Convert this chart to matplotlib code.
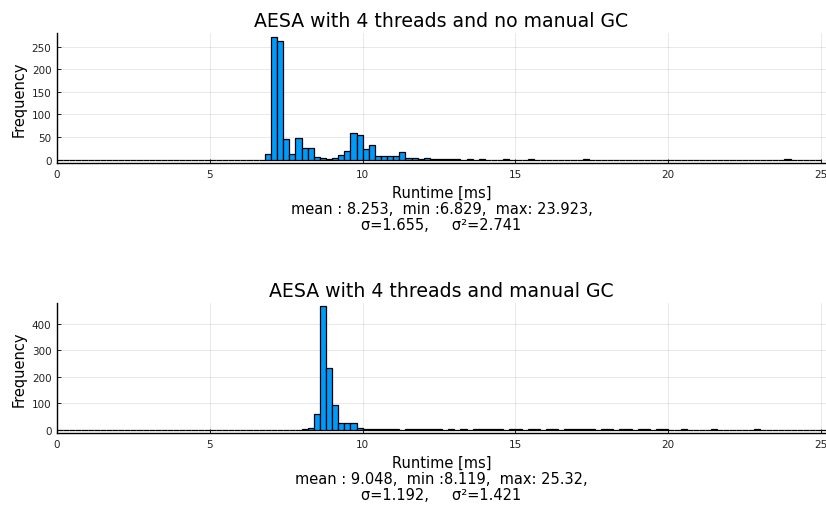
import matplotlib
matplotlib.use('Agg')
import matplotlib.pyplot as plt
import numpy as np

# bin width of the histograms (ms)
bin_width = 0.2

# top panel: no manual GC  (left edge of bin -> count)
top_left = [6.8, 7.0, 7.2, 7.4, 7.6, 7.8, 8.0, 8.2, 8.4, 8.6, 8.8, 9.0, 9.2, 9.4,
            9.6, 9.8, 10.0, 10.2, 10.4, 10.6, 10.8, 11.0, 11.2, 11.4, 11.6, 11.8,
            12.0, 12.2, 12.4, 12.6, 12.8, 13.0, 13.4, 13.8, 14.6, 15.4, 17.2, 23.8]
top_counts = [12, 272, 263, 46, 12, 48, 25, 25, 6, 3, 1, 4, 10, 20,
              58, 55, 23, 32, 8, 8, 8, 8, 18, 4, 4, 2,
              4, 1, 1, 2, 1, 1, 1, 2, 1, 1, 1, 1]
top_range = (0.0, 25.0)

# bottom panel: manual GC
bottom_left = [8.0, 8.2, 8.4, 8.6, 8.8, 9.0, 9.2, 9.4, 9.6, 9.8, 10.0,
               10.2, 10.4, 10.6, 10.8, 11.0, 11.4, 11.6, 11.8, 12.0, 12.2, 12.4,
               12.8, 13.2, 13.6, 13.8, 14.0, 14.2, 14.4, 14.8, 15.0, 15.4, 15.6,
               16.0, 16.2, 16.6, 16.8, 17.0, 17.2, 17.4, 17.8, 18.0, 18.4, 18.6,
               19.0, 19.2, 19.6, 19.8, 20.4, 21.4, 22.8, 25.2]
bottom_counts = [2, 8, 60, 467, 234, 94, 24, 24, 24, 6, 3,
                 1, 1, 1, 1, 1, 1, 1, 1, 1, 1, 1,
                 3, 1, 1, 1, 2, 1, 1, 1, 1, 3, 1,
                 1, 3, 1, 1, 1, 3, 1, 3, 1, 3, 1,
                 1, 1, 3, 1, 3, 1, 1, 1]
bottom_range = (0.0, 25.4)

titles = ['AESA with 4 threads and no manual GC', 'AESA with 4 threads and manual GC']
xlabels = ['Runtime [ms]\nmean : 8.253,  min :6.829,  max: 23.923,\nσ=1.655,     σ²=2.741',
           'Runtime [ms]\nmean : 9.048,  min :8.119,  max: 25.32,\nσ=1.192,     σ²=1.421']
xticks = [0, 5, 10, 15, 20, 25]
yticks_top = [0, 50, 100, 150, 200, 250]
yticks_bottom = [0, 100, 200, 300, 400]


def full_counts(lefts, counts, rng):
    # every bin in the range, empty ones get 0 so the baseline is drawn
    n = int(round((rng[1] - rng[0]) / bin_width))
    edges = rng[0] + bin_width * np.arange(n)
    c = np.zeros(n)
    for l, v in zip(lefts, counts):
        c[int(round((l - rng[0]) / bin_width))] = v
    return edges, c


fig = plt.figure(figsize=(8.26, 5.06), dpi=100)
W, H = 826, 506
ax1 = fig.add_axes([57 / W, 1 - 164.3 / H, (W - 57) / W, 130.6 / H])
ax2 = fig.add_axes([57 / W, 1 - 434.4 / H, (W - 57) / W, 130.8 / H])

panels = [(ax1, top_left, top_counts, top_range, yticks_top, (-8, 281)),
          (ax2, bottom_left, bottom_counts, bottom_range, yticks_bottom, (-14, 481))]

for i, (ax, lefts, counts, rng, yt, yl) in enumerate(panels):
    edges, c = full_counts(lefts, counts, rng)
    ax.bar(edges, c, width=bin_width, align='edge', color='#009AFA',
           edgecolor='black', linewidth=0.9, zorder=2)
    ax.set_xlim(0, 25.16)
    ax.set_ylim(*yl)
    ax.set_xticks(xticks)
    ax.set_yticks(yt)
    ax.grid(True, color='black', alpha=0.1, linewidth=0.6)
    ax.set_axisbelow(True)
    for s in ['top', 'right']:
        ax.spines[s].set_visible(False)
    for s in ['left', 'bottom']:
        ax.spines[s].set_linewidth(1.0)
    ax.tick_params(direction='in', length=3, width=0.6, labelsize=7.5, pad=4,
                   labelcolor='#222222')
    ax.set_title(titles[i], fontsize=13.6, pad=5)
    ax.set_xlabel(xlabels[i], fontsize=10.5, linespacing=1.1, labelpad=4)
    ax.set_ylabel('Frequency', fontsize=10.5, labelpad=4)

fig.savefig('out.png', dpi=100)
